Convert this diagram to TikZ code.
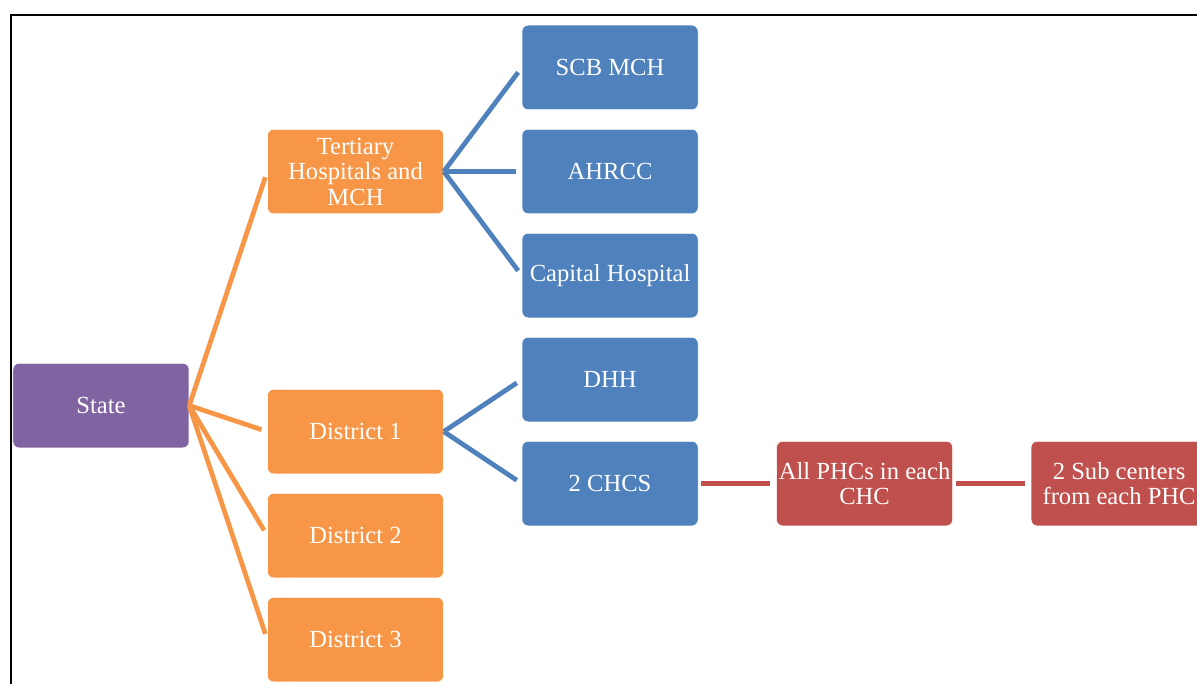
\documentclass[tikz,border=0pt]{standalone}
\usepackage{fontspec}
\setmainfont{Liberation Serif}
\usetikzlibrary{positioning, calc}

\definecolor{stateviolet}{HTML}{8064A2}
\definecolor{tierorange}{HTML}{F79646}
\definecolor{unitblue}{HTML}{4F81BD}
\definecolor{phcred}{HTML}{C0504D}

\begin{document}
\begin{tikzpicture}[
    box/.style={rectangle, rounded corners=0.12cm, draw=white, line width=0.3pt, minimum height=1.69cm, minimum width=3.52cm, inner sep=1pt, align=center, text=white, font=\fontsize{14}{14.5}\selectfont},
    statebox/.style={box, fill=stateviolet},
    tierbox/.style={box, fill=tierorange},
    unitbox/.style={box, fill=unitblue},
    phcbox/.style={box, fill=phcred},
    link/.style={line width=0.095cm, shorten >=0.12cm},
    node distance=0.38cm and 1.56cm
]
    % Frame and page size
    \useasboundingbox (0,0) rectangle (23.94,-13.68);
    \draw[line width=1.2pt] (0.22,-13.68) -- (0.22,-0.3) -- (23.94,-0.3);

    % Nodes
    \node[tierbox] (tertiary) at (7.11,-3.43) {Tertiary\\Hospitals and\\MCH};
    \node[unitbox, right=of tertiary] (ahrcc) {AHRCC};
    \node[unitbox, above=of ahrcc] (scb) {SCB MCH};
    \node[unitbox, below=of ahrcc] (capital) {Capital Hospital};
    \node[unitbox, below=of capital] (dhh) {DHH};
    \node[unitbox, below=of dhh] (chcs) {2 CHCS};
    \coordinate (dmid) at ($(dhh.south west)!0.5!(chcs.north west)$);
    \node[tierbox, left=of dmid] (district1) {District 1};
    \node[tierbox, below=of district1] (district2) {District 2};
    \node[tierbox, below=of district2] (district3) {District 3};
    \coordinate (smid) at ($(tertiary.west)!0.5!(district3.west)$);
    \node[statebox, left=of smid] (state) {State};
    \node[phcbox, right=of chcs] (phc) {All PHCs in each\\CHC};
    \node[phcbox, right=of phc] (sub) {2 Sub centers\\from each PHC};

    % Lines
    \foreach \t in {tertiary, district1, district2, district3}
        \draw[link, tierorange] (state.east) -- (\t.west);
    \foreach \t in {scb, ahrcc, capital}
        \draw[link, unitblue] (tertiary.east) -- (\t.west);
    \foreach \t in {dhh, chcs}
        \draw[link, unitblue] (district1.east) -- (\t.west);
    \draw[link, phcred, shorten <=0.06cm] (chcs) -- (phc);
    \draw[link, phcred, shorten <=0.06cm] (phc) -- (sub);
\end{tikzpicture}
\end{document}
